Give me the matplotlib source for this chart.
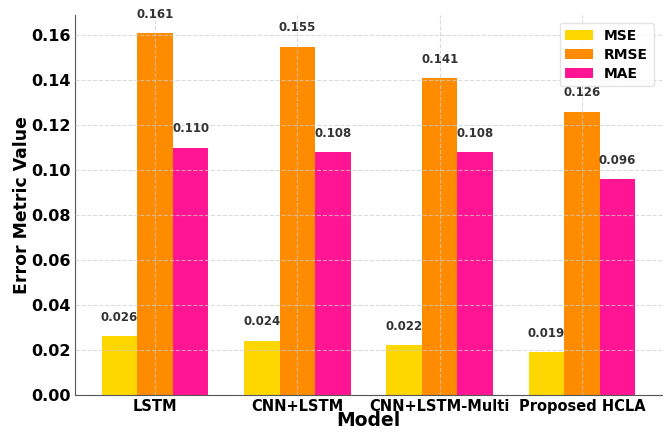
import numpy as np
import matplotlib
matplotlib.use("Agg")
import matplotlib.pyplot as plt
from matplotlib.ticker import FormatStrFormatter

models = ["LSTM", "CNN+LSTM", "CNN+LSTM-Multi", "Proposed HCLA"]
metrics = ["MSE", "RMSE", "MAE"]
mse = [0.026, 0.024, 0.022, 0.019]
rmse = [0.161, 0.155, 0.141, 0.126]
mae = [0.110, 0.108, 0.108, 0.096]
colors = ["#FFD700", "#FF8C00", "#FF1493"]

fig = plt.figure(figsize=(6.64, 4.32), dpi=100)
ax = fig.add_axes([0.113, 0.086, 0.884, 0.879])

x = np.arange(len(models))
width = 0.25
for i, (name, vals, c) in enumerate(zip(metrics, [mse, rmse, mae], colors)):
    bars = ax.bar(x + (i - 1) * width, vals, width, color=c, label=name)
    for b, v in zip(bars, vals):
        ax.annotate(f"{v:.3f}", (b.get_x() + b.get_width() / 2, v),
                    xytext=(0, 9), textcoords="offset points",
                    ha="center", va="bottom", fontsize=8.5, fontweight="bold",
                    color="#333333")

ax.set_xticks(x)
ax.set_xticklabels(models, fontsize=10.5, fontweight="bold")
ax.set_yticks(np.arange(0, 0.161, 0.02))
ax.yaxis.set_major_formatter(FormatStrFormatter("%.2f"))
ax.tick_params(axis="y", labelsize=11.5, length=0, pad=3)
ax.tick_params(axis="x", length=0, pad=3)
for lbl in ax.get_yticklabels():
    lbl.set_fontweight("bold")
ax.set_xlabel("Model", fontsize=13.5, fontweight="bold", labelpad=-2)
ax.set_ylabel("Error Metric Value", fontsize=12.4, fontweight="bold", labelpad=0)

ax.grid(True, linestyle="--", color="#cccccc", alpha=0.7, linewidth=0.8)
ax.set_axisbelow(False)
ax.spines["top"].set_visible(False)
ax.spines["right"].set_visible(False)
ax.spines["left"].set_color("#555555")
ax.spines["bottom"].set_color("#555555")

leg = ax.legend(loc="upper right", prop={"weight": "bold", "size": 10},
                labelspacing=0.35, borderaxespad=0.6)
leg.get_frame().set_edgecolor("#dddddd")

fig.savefig("out.png", dpi=100)
